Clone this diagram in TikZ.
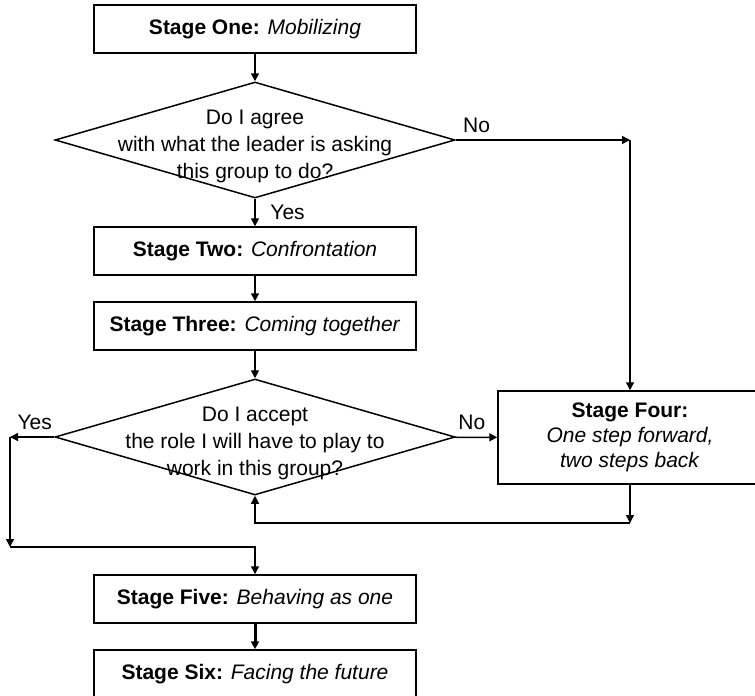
\documentclass[tikz,border=0pt]{standalone}
\usepackage{fontspec}
\setmainfont{Liberation Sans}
\usetikzlibrary{arrows.meta}
\usetikzlibrary{shapes.geometric}

\begin{document}
\begin{tikzpicture}[x=0.5pt,y=-0.5pt]
	\tikzstyle{stage}=[draw,line width=0.75pt,minimum width=161pt,minimum height=24pt,inner sep=0pt,align=center,font=\fontsize{10.5}{12.5}\selectfont]
	\tikzstyle{question}=[diamond,draw,line width=0.75pt,minimum width=200pt,minimum height=58pt,inner sep=0pt]
	\tikzstyle{qtext}=[align=center,font=\fontsize{10.5}{13.5}\selectfont]
	\tikzstyle{answer}=[font=\fontsize{10.5}{13}\selectfont]
	\tikzstyle{fleche}=[-{Triangle[length=4pt,width=4pt]},line width=0.75pt]
	\useasboundingbox (0,0) rectangle (755,696);
	\clip (0,0) rectangle (755,696);
	\node[stage] (one) at (255,29){\textbf{Stage One:} \textit{Mobilizing}};
	\node[question] (q1) at (255,140){};
	\node[qtext] (q1text) at (255,146){Do I agree\\with what the leader is asking\\this group to do?};
	\node[stage] (two) at (255,251){\textbf{Stage Two:} \textit{Confrontation}};
	\node[stage] (three) at (255,326){\textbf{Stage Three:} \textit{Coming together}};
	\node[question] (q2) at (255,437){};
	\node[qtext] (q2text) at (255,443){Do I accept\\the role I will have to play to\\work in this group?};
	\node[stage,minimum width=132pt,minimum height=46.5pt] (four) at (630,437.5){\textbf{Stage Four:}\\\textit{One step forward,}\\\textit{two steps back}};
	\node[stage] (five) at (255,599){\textbf{Stage Five:} \textit{Behaving as one}};
	\node[stage] (six) at (255,674){\textbf{Stage Six:} \textit{Facing the future}};
	\coordinate (c1) at (four.north |- q1.east);
	\coordinate (yes1) at (10,437);
	\coordinate (yes2) at (10,547);
	\coordinate (back) at (630,523);
	\draw[fleche] (one) -- (q1);
	\draw[fleche] (q1) -- node[answer,right,xshift=4]{Yes} (two);
	\draw[fleche] (two) -- (three);
	\draw[fleche] (three) -- (q2);
	\draw[fleche] (q1.east) -- node[answer,above,pos=0.12]{No} (c1);
	\draw[fleche] (c1) -- (four);
	\draw[fleche] (q2) -- node[answer,above,pos=0.4]{No} (four);
	\draw[fleche] (q2.west) -- node[answer,above,pos=0.44]{Yes} (yes1);
	\draw[fleche] (yes1) -- (yes2);
	\draw[fleche] (yes2) -| (five.north);
	\draw[fleche] (four) -- (back);
	\draw[fleche] (back) -| (q2.south);
	\draw[fleche,line width=1.5pt] (five) -- (six);
\end{tikzpicture}
\end{document}
